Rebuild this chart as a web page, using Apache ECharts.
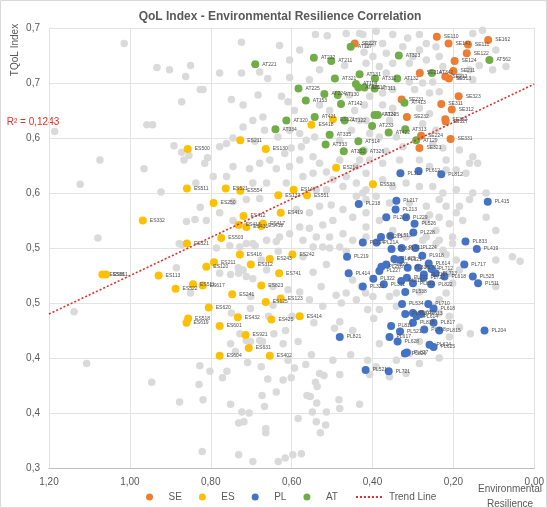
<!DOCTYPE html>
<html><head><meta charset="utf-8">
<script src="https://cdn.jsdelivr.net/npm/echarts@6/dist/echarts.min.js"></script>
<style>html,body{margin:0;padding:0;background:#fff}#c{width:547px;height:508px}</style>
</head><body><div id="c"></div>
<script>
// ---- data (x = Environmental Resilience, y = TQoL Index) ----
const seData = [
 [0.241,0.692,'SE110'],[0.212,0.686,'SE141'],[0.164,0.685,'SE111'],[0.114,0.689,'SE162'],
 [0.167,0.677,'SE122'],[0.197,0.670,'SE124'],[0.200,0.661,'SE211'],[0.283,0.659,'SE214'],
 [0.220,0.656,'SE212'],[0.211,0.654,'SE313'],[0.328,0.635,'SE231'],[0.187,0.638,'SE323'],
 [0.230,0.631,'SE311'],[0.204,0.626,'SE312'],[0.220,0.617,'SE322'],[0.219,0.615,'SE327'],
 [0.315,0.619,'SE232'],[0.280,0.602,'SE224'],[0.207,0.599,'SE331'],[0.284,0.591,'SE321'],
 [0.444,0.686,'SE227']
];
const esData = [
 [0.857,0.590,'ES500'],[0.859,0.554,'ES511'],[0.968,0.525,'ES332'],[0.859,0.504,'ES521'],
 [0.727,0.598,'ES211'],[0.664,0.590,'ES130'],[0.498,0.617,'ES121'],[0.551,0.612,'ES418'],
 [0.490,0.573,'ES214'],[0.763,0.554,'ES521'],[0.727,0.552,'ES554'],[0.595,0.553,'ES147'],
 [0.562,0.548,'ES551'],[0.633,0.548,'ES132'],[0.793,0.541,'ES250'],[0.627,0.532,'ES419'],
 [0.719,0.529,'ES412'],[0.671,0.522,'ES417'],[0.675,0.520,'ES418'],[0.712,0.519,'ES431'],
 [0.731,0.521,'ES413'],[0.774,0.509,'ES503'],[0.399,0.558,'ES533'],[0.728,0.494,'ES416'],
 [0.654,0.490,'ES243'],[0.701,0.485,'ES312'],[0.792,0.487,'ES211'],[0.811,0.483,'ES120'],
 [0.631,0.477,'ES741'],[1.068,0.476,'ES508'],[1.059,0.476,'ES611'],[0.929,0.475,'ES113'],
 [0.844,0.467,'ES511'],[0.820,0.466,'ES617'],[0.887,0.463,'ES522'],[0.675,0.466,'ES823'],
 [0.747,0.458,'ES241'],[0.664,0.451,'ES125'],[0.627,0.454,'ES123'],[0.805,0.446,'ES620'],
 [0.856,0.436,'ES518'],[0.860,0.432,'ES619'],[0.733,0.437,'ES432'],[0.650,0.435,'ES425'],
 [0.778,0.429,'ES601'],[0.714,0.421,'ES921'],[0.706,0.409,'ES631'],[0.778,0.402,'ES604'],
 [0.654,0.402,'ES402'],[0.598,0.494,'ES242'],[0.580,0.438,'ES414']
];
const plData = [
 [0.331,0.568,'PL312'],[0.286,0.570,'PL612'],[0.230,0.567,'PL812'],[0.434,0.540,'PL218'],
 [0.341,0.543,'PL217'],[0.343,0.535,'PL213'],[0.366,0.528,'PL214'],[0.317,0.528,'PL229'],
 [0.296,0.522,'PL526'],[0.299,0.514,'PL228'],[0.115,0.542,'PL415'],[0.170,0.506,'PL833'],
 [0.142,0.499,'PL419'],[0.379,0.510,'PL215'],[0.356,0.511,'PL513'],[0.424,0.505,'PL224'],
 [0.390,0.505,'PL21A'],[0.353,0.499,'PL610'],[0.328,0.500,'PL611'],[0.294,0.500,'PL224'],
 [0.463,0.492,'PL219'],[0.346,0.490,'PL425'],[0.331,0.489,'PL621'],[0.277,0.493,'PL918'],
 [0.261,0.486,'PL614'],[0.366,0.485,'PL223'],[0.378,0.483,'PL226'],[0.383,0.479,'PL227'],
 [0.313,0.482,'PL316'],[0.287,0.482,'PL711'],[0.254,0.481,'PL712'],[0.244,0.477,'PL713'],
 [0.222,0.474,'PL618'],[0.273,0.476,'PL715'],[0.173,0.485,'PL717'],[0.459,0.477,'PL414'],
 [0.398,0.472,'PL322'],[0.329,0.470,'PL311'],[0.315,0.473,'PL721'],[0.274,0.473,'PL722'],
 [0.255,0.467,'PL822'],[0.300,0.468,'PL812'],[0.372,0.467,'PL311'],[0.424,0.465,'PL322'],
 [0.152,0.474,'PL525'],[0.139,0.468,'PL511'],[0.319,0.460,'PL538'],[0.327,0.449,'PL534'],
 [0.262,0.449,'PL710'],[0.249,0.445,'PL618'],[0.319,0.440,'PL513'],[0.300,0.441,'PL612'],
 [0.280,0.440,'PL613'],[0.291,0.438,'PL614'],[0.249,0.432,'PL817'],[0.300,0.432,'PL816'],
 [0.272,0.426,'PL818'],[0.235,0.425,'PL815'],[0.354,0.429,'PL811'],[0.332,0.424,'PL521'],
 [0.358,0.419,'PL617'],[0.338,0.415,'PL628'],[0.123,0.425,'PL204'],[0.481,0.419,'PL821'],
 [0.259,0.412,'PL624'],[0.249,0.410,'PL625'],[0.320,0.404,'PL826'],[0.315,0.405,'PL827'],
 [0.417,0.389,'PL521'],[0.360,0.388,'PL721']
];
const atData = [
 [0.690,0.667,'AT221'],[0.545,0.673,'AT232'],[0.502,0.670,'AT211'],[0.454,0.683,'AT127'],
 [0.432,0.658,'AT131'],[0.493,0.654,'AT321'],[0.583,0.645,'AT225'],[0.519,0.640,'AT224'],
 [0.565,0.634,'AT153'],[0.486,0.639,'AT130'],[0.478,0.631,'AT142'],[0.441,0.649,'AT114'],
 [0.435,0.646,'AT125'],[0.395,0.645,'AT311'],[0.394,0.654,'AT312'],[0.543,0.619,'AT421'],
 [0.613,0.616,'AT320'],[0.640,0.608,'AT334'],[0.469,0.616,'AT122'],[0.401,0.611,'AT233'],
 [0.506,0.603,'AT335'],[0.435,0.597,'AT514'],[0.516,0.594,'AT333'],[0.471,0.588,'AT332'],
 [0.424,0.588,'AT326'],[0.335,0.675,'AT323'],[0.111,0.671,'AT562'],[0.253,0.659,'AT342'],
 [0.339,0.654,'AT132'],[0.321,0.632,'AT413'],[0.395,0.621,'AT324'],[0.387,0.621,'AT325'],
 [0.360,0.605,'AT422'],[0.319,0.608,'AT313'],[0.292,0.598,'AT129'],[0.420,0.646,'AT117']
];
const otherData = [
 [1.014,0.686],[0.933,0.664],[0.902,0.662],[0.850,0.666],[0.862,0.656],[0.826,0.644],[0.872,0.633],
 [0.958,0.612],[0.944,0.612],[1.186,0.606],[0.891,0.593],[0.872,0.587],[0.854,0.584],[0.866,0.580],
 [0.808,0.582],[1.074,0.580],[0.965,0.572],[1.123,0.558],[0.923,0.551],[0.837,0.559],[0.826,0.537],
 [0.839,0.526],[0.860,0.524],[1.079,0.509],[0.878,0.504],
 [1.138,0.442],[1.107,0.395],[0.946,0.378],[0.877,0.360],[0.827,0.393],[0.829,0.376],[0.819,0.362],
 [0.802,0.388],[0.771,0.382],[0.760,0.388],[0.821,0.315],[0.751,0.358],[0.731,0.341],[0.718,0.342],
 [0.723,0.351],[0.705,0.350],[0.731,0.312],[0.696,0.306],[0.675,0.392],[0.659,0.381],[0.673,0.366],
 [0.667,0.356],[0.638,0.369],[0.664,0.336],[0.664,0.332],[0.633,0.306],[0.751,0.413],[0.739,0.406],
 [0.709,0.396],[0.702,0.445],[0.712,0.416],[0.702,0.415],[0.728,0.422],[0.679,0.416],[0.672,0.415],
 [0.644,0.422],[0.885,0.482],[0.778,0.477],[0.850,0.459],[0.751,0.476],[0.731,0.477],[0.732,0.482],
 [0.720,0.480],[0.712,0.474],[0.753,0.502],[0.712,0.504],[0.690,0.502],[0.638,0.506],[0.786,0.500],
 [0.872,0.503],[0.749,0.441],[0.701,0.456],[0.657,0.438],[0.646,0.448],[0.675,0.489],[0.662,0.480],
 [0.696,0.472],[0.646,0.465],[0.633,0.497],
 [0.035,0.488],[0.158,0.422],[0.599,0.438],[0.545,0.432],[0.494,0.427],[0.449,0.425],[0.397,0.436],
 [0.584,0.415],[0.551,0.403],[0.498,0.398],[0.454,0.403],[0.412,0.398],[0.593,0.391],[0.565,0.394],
 [0.601,0.382],[0.531,0.386],[0.520,0.384],[0.481,0.385],[0.541,0.378],[0.537,0.374],[0.554,0.365],
 [0.562,0.366],[0.483,0.362],[0.432,0.358],[0.538,0.359],[0.549,0.351],[0.514,0.351],[0.481,0.354],
 [0.584,0.345],[0.539,0.342],[0.516,0.339],[0.529,0.332],[0.597,0.312],[0.576,0.313],[0.616,0.309],
 [0.412,0.444],[0.481,0.433],[0.514,0.485],[0.527,0.465],[0.490,0.457],[0.465,0.459],[0.449,0.471],
 [0.506,0.500],[0.465,0.497],[0.547,0.478],[0.572,0.492],[0.477,0.450],[0.523,0.447],[0.440,0.453],
 [0.417,0.459],[0.428,0.465],[0.399,0.456],[0.556,0.453],[0.580,0.460],[0.609,0.462],[0.615,0.425],
 [0.621,0.413],[0.609,0.398],[0.621,0.380],
 [0.724,0.687],[0.541,0.694],[0.512,0.693],[0.465,0.695],[0.424,0.694],[0.421,0.678],[0.400,0.686],
 [0.778,0.659],[0.724,0.659],[0.679,0.660],[0.659,0.654],[0.819,0.644],[0.749,0.635],[0.720,0.630],
 [0.683,0.639],[0.625,0.638],[0.609,0.633],[0.593,0.625],[0.671,0.619],[0.696,0.616],[0.720,0.610],
 [0.745,0.600],[0.761,0.595],[0.778,0.592],[0.691,0.597],[0.667,0.607],[0.634,0.601],[0.605,0.607],
 [0.580,0.604],[0.564,0.598],[0.543,0.601],[0.576,0.592],[0.601,0.591],[0.617,0.586],[0.654,0.580],
 [0.679,0.577],[0.704,0.572],[0.745,0.574],[0.761,0.565],[0.794,0.565],[0.815,0.577],[0.638,0.572],
 [0.605,0.574],[0.580,0.580],[0.547,0.583],[0.531,0.577],[0.514,0.569],[0.547,0.568],[0.572,0.565],
 [0.465,0.565],[0.440,0.574],[0.432,0.580],[0.481,0.580],[0.498,0.562],[0.473,0.556],[0.440,0.559],
 [0.416,0.553],[0.514,0.553],[0.539,0.553],[0.613,0.559],[0.662,0.559],[0.696,0.559],[0.679,0.545],
 [0.712,0.544],[0.745,0.542],[0.778,0.532],[0.811,0.525],[0.745,0.525],[0.588,0.535],[0.556,0.532],
 [0.531,0.538],[0.502,0.539],[0.473,0.535],[0.449,0.528],[0.498,0.525],[0.523,0.521],[0.556,0.518],
 [0.580,0.519],[0.605,0.513],[0.630,0.510],[0.662,0.507],[0.696,0.504],[0.728,0.501],[0.572,0.507],
 [0.539,0.510],[0.506,0.510],[0.473,0.513],[0.449,0.507],[0.481,0.501],[0.523,0.501],[0.547,0.501],
 [0.416,0.519],[0.416,0.544],[0.440,0.547],
 [0.432,0.695],[0.391,0.697],[0.350,0.694],[0.313,0.691],[0.284,0.694],[0.412,0.685],[0.375,0.686],
 [0.325,0.683],[0.284,0.680],[0.267,0.686],[0.399,0.674],[0.366,0.677],[0.300,0.674],[0.267,0.671],
 [0.235,0.674],[0.243,0.683],[0.152,0.695],[0.128,0.698],[0.095,0.680],[0.136,0.666],[0.160,0.662],
 [0.103,0.662],[0.070,0.665],[0.416,0.668],[0.383,0.665],[0.350,0.668],[0.309,0.668],[0.226,0.665],
 [0.366,0.659],[0.309,0.651],[0.276,0.650],[0.251,0.651],[0.185,0.656],[0.152,0.653],[0.407,0.638],
 [0.375,0.641],[0.350,0.644],[0.296,0.644],[0.259,0.641],[0.235,0.642],[0.375,0.630],[0.350,0.627],
 [0.284,0.627],[0.259,0.622],[0.420,0.630],[0.416,0.616],[0.358,0.616],[0.276,0.613],[0.243,0.607],
 [0.341,0.601],[0.383,0.601],[0.407,0.604],[0.251,0.594],[0.226,0.591],[0.325,0.592],[0.366,0.588],
 [0.185,0.589],[0.152,0.583],[0.407,0.580],[0.375,0.577],[0.333,0.580],[0.284,0.580],[0.259,0.574],
 [0.218,0.580],[0.193,0.571],[0.160,0.577],[0.416,0.568],[0.375,0.562],[0.350,0.556],[0.317,0.559],
 [0.284,0.556],[0.251,0.556],[0.226,0.550],[0.193,0.553],[0.152,0.550],[0.119,0.550],[0.424,0.550],
 [0.391,0.547],[0.358,0.541],[0.309,0.541],[0.267,0.538],[0.235,0.544],[0.218,0.538],[0.185,0.538],
 [0.160,0.544],[0.416,0.532],[0.383,0.525],[0.267,0.525],[0.235,0.528],[0.210,0.522],[0.177,0.525],
 [0.350,0.516],[0.243,0.516],[0.202,0.510],[0.235,0.507],[0.267,0.510],[0.317,0.510],[0.416,0.510],
 [0.226,0.498],
 [0.218,0.571],[0.169,0.568],[0.140,0.577],[0.193,0.532],[0.259,0.530],[0.119,0.528],[0.095,0.516],
 [0.202,0.504],[0.218,0.494],[0.193,0.489],[0.243,0.504],[0.276,0.507],[0.095,0.489],[0.054,0.492],
 [0.210,0.477],[0.185,0.480],[0.202,0.468],[0.095,0.465],[0.218,0.459],[0.284,0.460],[0.341,0.459],
 [0.358,0.456],[0.235,0.453],[0.341,0.447],[0.383,0.444],[0.235,0.441],[0.210,0.438],[0.185,0.428],
 [0.210,0.419],[0.383,0.413],[0.284,0.415],[0.309,0.404],[0.341,0.398],[0.284,0.395],[0.235,0.400],
 [0.391,0.392],[0.407,0.385],[0.317,0.386],[0.358,0.383],
 [0.580,0.680],[0.605,0.671],[0.630,0.684],[0.531,0.662],[0.469,0.666],[0.556,0.653],[0.605,0.655],
 [0.457,0.639],[0.531,0.630],[0.444,0.625],[0.506,0.625],[0.432,0.616],[0.452,0.607],[0.481,0.598],
 [0.420,0.589]
];
const trendX = [1.20, 0.00];
const trendY = [0.440, 0.649];
const xTicks = [0, 0.2, 0.4, 0.6, 0.8, 1.0, 1.2];
const yTicks = [0.30, 0.35, 0.40, 0.45, 0.50, 0.55, 0.60, 0.65, 0.70];
const rSquared = '0,1243';

const FONT = 'Liberation Sans, Noto Sans, sans-serif';
const TXT = '#595959';
const chart = echarts.init(document.getElementById('c'), null, {renderer:'canvas'});
const lbl = {show:true, position:'right', distance:3, fontSize:5, color:'#505050',
  fontFamily:FONT, formatter:p=>p.data[2]};
function scat(name, data, color){
  return {name, type:'scatter', data, symbolSize:8, itemStyle:{color, opacity:1},
    label:lbl, labelLayout:{hideOverlap:false}, z:3, emphasis:{disabled:true}};
}
chart.setOption({
  animation:false,
  backgroundColor:'#fff',
  textStyle:{fontFamily:FONT},
  grid:{left:49, right:12, top:28, bottom:40, containLabel:false},
  xAxis:{type:'value', inverse:true, min:xTicks[0], max:xTicks[xTicks.length-1], interval:0.2,
    axisLine:{show:true, lineStyle:{color:'#bfbfbf'}}, axisTick:{show:false},
    splitLine:{show:true, lineStyle:{color:'#e3e3e3'}},
    axisLabel:{color:TXT, fontSize:10, margin:9, fontFamily:FONT,
      formatter:v=>v.toFixed(2).replace('.',',')}},
  yAxis:{type:'value', min:yTicks[0], max:yTicks[yTicks.length-1], interval:0.05,
    axisLine:{show:true, lineStyle:{color:'#e3e3e3'}}, axisTick:{show:false},
    splitLine:{show:true, lineStyle:{color:'#e3e3e3'}},
    axisLabel:{color:TXT, fontSize:10, margin:9, fontFamily:FONT,
      formatter:v=>(Math.round(v*10+1e-6)/10).toFixed(1).replace('.',',')}},
  legend:{data:['SE','ES','PL','AT',{name:'Trend Line', itemStyle:{opacity:0}}],
    left:141, top:487, itemWidth:28, itemHeight:7,
    itemGap:17, textStyle:{color:TXT, fontSize:10, fontFamily:FONT}, selectedMode:false},
  series:[
    {name:'other', type:'scatter', data:otherData, symbolSize:7.5, itemStyle:{color:'#dadada', opacity:1},
     z:2, silent:true},
    scat('SE', seData, '#ED7D31'),
    scat('ES', esData, '#FFC000'),
    scat('PL', plData, '#4472C4'),
    scat('AT', atData, '#70AD47'),
    {name:'Trend Line', type:'line', data:trendX.map((x,i)=>[x,trendY[i]]), symbol:'none', showSymbol:false,
     lineStyle:{color:'#E0302A', width:1.6, type:[2,2]}, itemStyle:{color:'#E0302A'}, z:4, silent:true}
  ],
  graphic:[
    {type:'rect', shape:{x:0.5,y:0.5,width:546,height:507}, style:{fill:null, stroke:'#d9d9d9', lineWidth:1}, silent:true},
    {type:'text', x:280, y:17, style:{text:'QoL Index - Environmental Resilience Correlation', fill:TXT,
      font:'bold 12px '+FONT, textAlign:'center', textVerticalAlign:'middle'}},
    {type:'text', x:15, y:50, rotation:Math.PI/2, style:{text:'TQoL Index', fill:TXT,
      font:'10px '+FONT, textAlign:'center', textVerticalAlign:'middle'}},
    {type:'text', x:33, y:122, style:{text:'R² = '+rSquared, fill:'#E0302A',
      font:'10px '+FONT, textAlign:'center', textVerticalAlign:'middle'}},
    {type:'text', x:510, y:497, style:{text:'Environmental\nResilience', fill:TXT,
      font:'10px '+FONT, textAlign:'center', textVerticalAlign:'middle', lineHeight:15}}
  ]
});
</script></body></html>
